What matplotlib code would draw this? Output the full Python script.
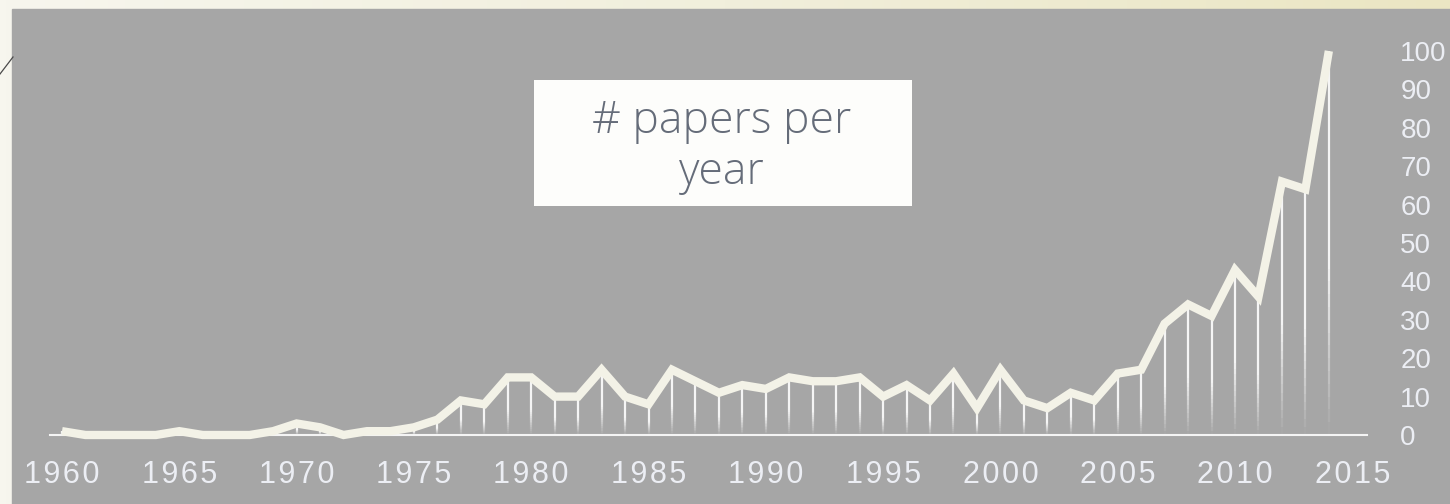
import numpy as np
import matplotlib
matplotlib.use("Agg")
import matplotlib.pyplot as plt
from matplotlib.collections import LineCollection
from matplotlib.patches import Rectangle
from matplotlib.lines import Line2D

# papers per year, 1960..2014
years = list(range(1960, 2015))
papers = [1, 0, 0, 0, 0, 1, 0, 0, 0, 1,
          3, 2, 0, 1, 1, 2, 4, 9, 8, 15,
          15, 10, 10, 17, 10, 8, 17, 14, 11, 13,
          12, 15, 14, 14, 15, 10, 13, 9, 16, 7,
          17, 9, 7, 11, 9, 16, 17, 29, 34, 31,
          43, 36, 66, 64, 100]
xticks = [1960, 1965, 1970, 1975, 1980, 1985, 1990, 1995, 2000, 2005, 2010, 2015]
yticks = [0, 10, 20, 30, 40, 50, 60, 70, 80, 90, 100]
title = "# papers per\nyear"

W, H = 1450, 504
fig = plt.figure(figsize=(W / 100, H / 100), dpi=100)

# cream backdrop with a soft horizontal gradient, gray panel on top
bg = fig.add_axes([0, 0, 1, 1], zorder=0)
grad = np.linspace(0, 1, 256).reshape(1, -1)
cmap = matplotlib.colors.LinearSegmentedColormap.from_list("cream", ["#f7f6ee", "#f1efdc", "#ebe6c3"])
bg.imshow(grad, aspect="auto", cmap=cmap, extent=[0, 1, 0, 1])
bg.add_patch(Rectangle((12 / W, 0), 1, (H - 9) / H, color="#a6a6a6", transform=bg.transAxes))
bg.add_line(Line2D([0, 13 / W], [1 - 74 / H, 1 - 57 / H], color="#4a4a4a", lw=0.9))
bg.set_xlim(0, 1)
bg.set_ylim(0, 1)
bg.axis("off")

# main chart
x0, x1 = 50, 1367
y0, ytop = 435, 40
ppu = 3.84  # pixels per paper
ppy = 23.46  # pixels per year
ax = fig.add_axes([x0 / W, (H - y0) / H, (x1 - x0) / W, (y0 - ytop) / H], zorder=2)
ax.patch.set_alpha(0)
ax.set_xlim(1960 - 12 / ppy, 1960 + (x1 - 62) / ppy)
ax.set_ylim(0, (y0 - ytop) / ppu)

# fading drop lines under each point
segs, cols = [], []
n = 30
for yr, v in zip(years, papers):
    if v <= 0:
        continue
    ys = np.linspace(0, v, n + 1)
    for i in range(n):
        t = (i + 0.5) / n
        segs.append([(yr, ys[i]), (yr, ys[i + 1])])
        cols.append((1, 1, 1, min(1.0, 2.2 * t) * 0.9))
ax.add_collection(LineCollection(segs, colors=cols, linewidths=1.6, zorder=2))

ax.plot(years, papers, color="#f3f2e7", lw=6, solid_joinstyle="miter",
        solid_capstyle="butt", clip_on=False, zorder=3)

for s in ["top", "left", "right"]:
    ax.spines[s].set_visible(False)
ax.spines["bottom"].set_color("#f4f4f4")
ax.spines["bottom"].set_linewidth(1.5)

ax.yaxis.tick_right()
ax.set_yticks(yticks)
ax.set_xticks(xticks)
# spaced-out digits on the year labels
ax.set_xticklabels(["\u200a".join(str(t)) for t in xticks])
ax.tick_params(axis="y", length=0, pad=24, labelsize=20, labelcolor="#eceef4")
ax.tick_params(axis="x", length=0, pad=18, labelsize=22, labelcolor="#eceef4")
for lab in ax.get_yticklabels() + ax.get_xticklabels():
    lab.set_fontfamily(["Liberation Sans", "DejaVu Sans"])

# title box
fig.patches.append(Rectangle((534 / W, (H - 206) / H), (912 - 534) / W, (206 - 80) / H,
                             transform=fig.transFigure, facecolor="#fdfdfb",
                             edgecolor="none", zorder=5))
fig.text(722 / W, 1 - 147 / H, title, ha="center", va="center", fontsize=32,
         family="Open Sans", fontweight="light", color="#656c79",
         linespacing=1.2, zorder=6)

fig.savefig("out.png", dpi=100)
